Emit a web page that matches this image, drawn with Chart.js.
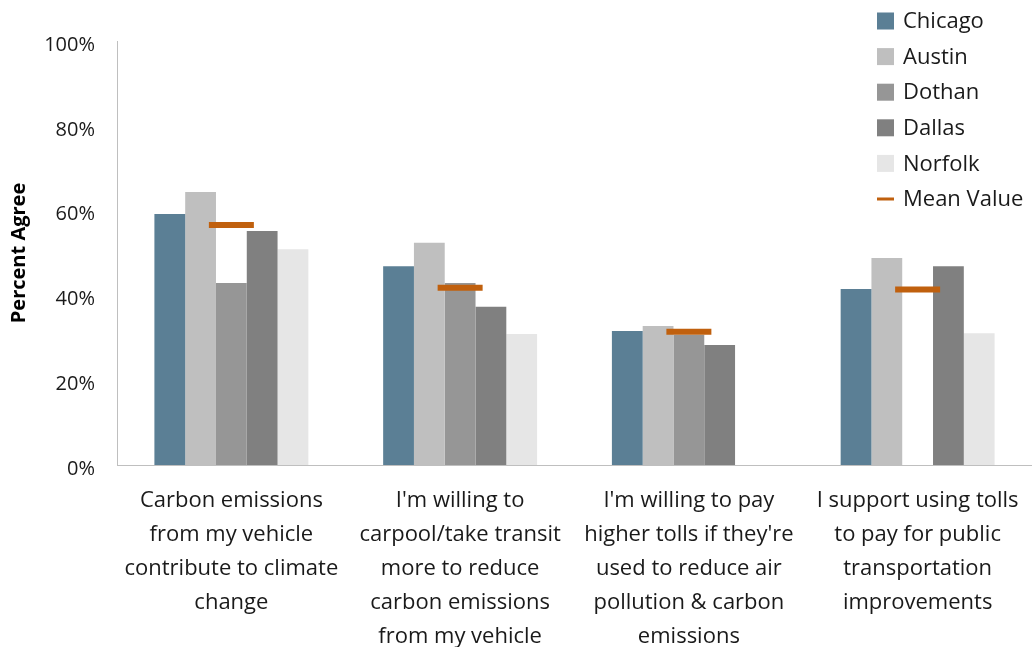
<!DOCTYPE html>
<html>
<head>
<meta charset="utf-8">
<script src="https://cdn.jsdelivr.net/npm/chart.js@4"></script>
<style>
  html, body { margin: 0; padding: 0; background: #fff; }
  #wrap { position: relative; width: 1032px; height: 647px; }
</style>
</head>
<body>
<div id="wrap"><canvas id="agreeChart"></canvas></div>
<script>
// survey statements (multi-line labels under each group)
const statements = [
    ['Carbon emissions', 'from my vehicle', 'contribute to climate', 'change'],
    ["I'm willing to", 'carpool/take transit', 'more to reduce', 'carbon emissions', 'from my vehicle'],
    ["I'm willing to pay", "higher tolls if they're", 'used to reduce air', 'pollution & carbon', 'emissions'],
    ['I support using tolls', 'to pay for public', 'transportation', 'improvements']
];

// percent agree per city (null = not asked)
const chicago = [59.2, 46.9, 31.6, 41.5];
const austin  = [64.4, 52.4, 32.8, 48.8];
const dothan  = [42.9, 42.9, 30.7, null];
const dallas  = [55.2, 37.3, 28.3, 46.9];
const norfolk = [50.9, 30.9, null, 31.1];
const meanValue = [56.6, 41.8, 31.4, 41.4];

const yTicks = [0, 20, 40, 60, 80, 100];

const cityColors = {
    Chicago: '#5b7f95',
    Austin: '#bfbfbf',
    Dothan: '#969696',
    Dallas: '#808080',
    Norfolk: '#e6e6e6'
};
const meanColor = '#c0600e';

Chart.defaults.font.family = '"Open Sans", sans-serif';
Chart.defaults.color = '#1a1a1a';

function barSet(label, data) {
    return {
        type: 'bar',
        label: label,
        data: data,
        backgroundColor: cityColors[label],
        borderWidth: 0,
        order: 1
    };
}

// legend drawn in the upper right corner, over the plot
const cornerLegend = {
    id: 'cornerLegend',
    afterDraw(chart) {
        const ctx = chart.ctx;
        const x = 877, y0 = 21, step = 35.6, box = 17;
        ctx.save();
        ctx.font = '22px "Open Sans", sans-serif';
        ctx.textBaseline = 'middle';
        chart.data.datasets.forEach((ds, i) => {
            const y = y0 + i * step;
            if (ds.type === 'line') {
                ctx.fillStyle = ds.borderColor;
                ctx.fillRect(x, y - 1.5, box, 3);
            } else {
                ctx.fillStyle = ds.backgroundColor;
                ctx.fillRect(x, y - box / 2, box, box);
            }
            ctx.fillStyle = '#1a1a1a';
            ctx.fillText(ds.label, x + 26, y + 1);
        });
        ctx.restore();
    }
};

const ctx = document.getElementById('agreeChart').getContext('2d');
new Chart(ctx, {
    data: {
        labels: statements,
        datasets: [
            barSet('Chicago', chicago),
            barSet('Austin', austin),
            barSet('Dothan', dothan),
            barSet('Dallas', dallas),
            barSet('Norfolk', norfolk),
            {
                type: 'line',
                label: 'Mean Value',
                data: meanValue,
                showLine: false,
                pointStyle: 'line',
                pointRadius: 22.5,
                pointHoverRadius: 22.5,
                borderWidth: 6,
                pointBorderWidth: 6,
                borderColor: meanColor,
                backgroundColor: meanColor,
                order: 0
            }
        ]
    },
    options: {
        responsive: true,
        maintainAspectRatio: false,
        animation: false,
        // the wide mean markers would otherwise push the plot in from the right
        layout: {
            autoPadding: false,
            padding: { top: 41, right: 0, left: 0, bottom: 0 }
        },
        datasets: {
            bar: { categoryPercentage: 0.673, barPercentage: 1.0 }
        },
        plugins: {
            legend: { display: false },
            tooltip: { enabled: false }
        },
        scales: {
            x: {
                grid: { display: false },
                border: { display: true, color: '#bfbfbf', width: 1 },
                ticks: {
                    font: { size: 22, lineHeight: 34 / 22 },
                    color: '#1a1a1a',
                    padding: 11,
                    maxRotation: 0,
                    autoSkip: false
                },
                afterFit(scale) {
                    scale.height = 182;
                    scale.paddingLeft = 0;
                    scale.paddingRight = 0;
                }
            },
            y: {
                min: 0,
                max: 100,
                afterBuildTicks(scale) {
                    scale.ticks = yTicks.map(v => ({ value: v }));
                },
                grid: { display: false },
                border: { display: true, color: '#bfbfbf', width: 1 },
                ticks: {
                    font: { size: 20 },
                    color: '#1a1a1a',
                    padding: 14,
                    labelOffset: 4,
                    callback: v => v + '%'
                },
                title: {
                    display: true,
                    text: 'Percent Agree',
                    font: { size: 20, weight: 'bold' },
                    color: '#000',
                    padding: { top: 7, bottom: 4 }
                },
                afterFit(scale) {
                    scale.width = 117;
                    scale.paddingTop = 0;
                    scale.paddingBottom = 0;
                }
            }
        }
    },
    plugins: [cornerLegend]
});
</script>
</body>
</html>
